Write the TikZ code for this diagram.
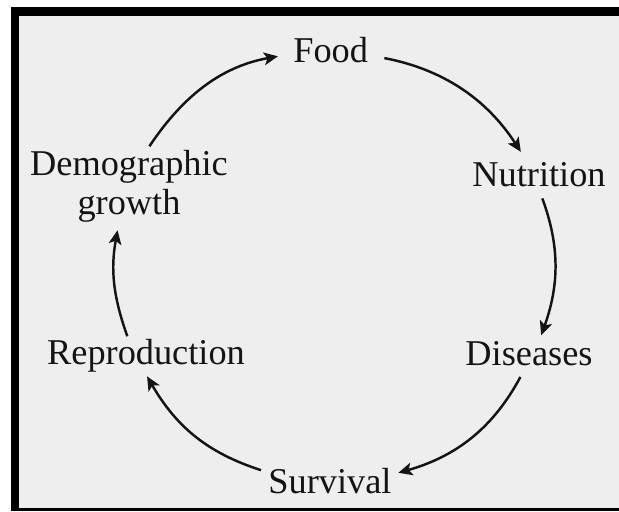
\documentclass[tikz,border=0pt]{standalone}
\usepackage{fontspec}
\setmainfont{Liberation Serif}
\usetikzlibrary{arrows.meta}
\definecolor{papel}{RGB}{238,238,238}
\definecolor{tinta}{RGB}{20,20,20}
\begin{document}
\begin{tikzpicture}[
  texto/.style={inner sep=0.1cm, text=tinta, align=center,
                font=\fontsize{31}{34}\selectfont},
  flecha/.style={-{Stealth[length=4.2mm, width=3.8mm, inset=1mm]},
                 line width=2.1pt, draw=tinta}
]
  \useasboundingbox (0,0) rectangle (18.57,15.33);
  \fill[black] (0.33,0) rectangle (18.57,15.12);
  \fill[papel] (0.57,0.09) rectangle (18.57,14.85);

  \node[texto, anchor=base] (food) at (9.92,13.44) {Food};
  \node[texto, anchor=base] (nutr) at (16.17,9.72) {Nutrition};
  \node[texto, anchor=base] (dis) at (15.87,4.35) {Diseases};
  \node[texto, anchor=base] (surv) at (9.90,0.54) {Survival};
  \node[texto, anchor=base] (repro) at (4.38,4.38) {Reproduction};
  \node[texto] (demo) at (3.87,9.74) {Demographic\\growth};

  \draw[flecha, shorten >=0.36cm] (demo.63) to[bend left=23] (food.185);
  \draw[flecha, shorten <=0.39cm, shorten >=0.27cm] (food.-7) to[bend left=23] (nutr.130);
  \draw[flecha, shorten <=0.24cm, shorten >=0.1cm] (nutr.-88) to[bend left=20] (dis.55);
  \draw[flecha, shorten <=0.24cm, shorten >=0.1cm] (dis.-107) to[bend left=23] (surv.6);
  \draw[flecha, shorten <=0.12cm] (surv.172) to[bend left=21] (repro.-87);
  \draw[flecha, shorten >=0.12cm] (repro.133) to[bend left=15] (demo.-105);
\end{tikzpicture}
\end{document}
